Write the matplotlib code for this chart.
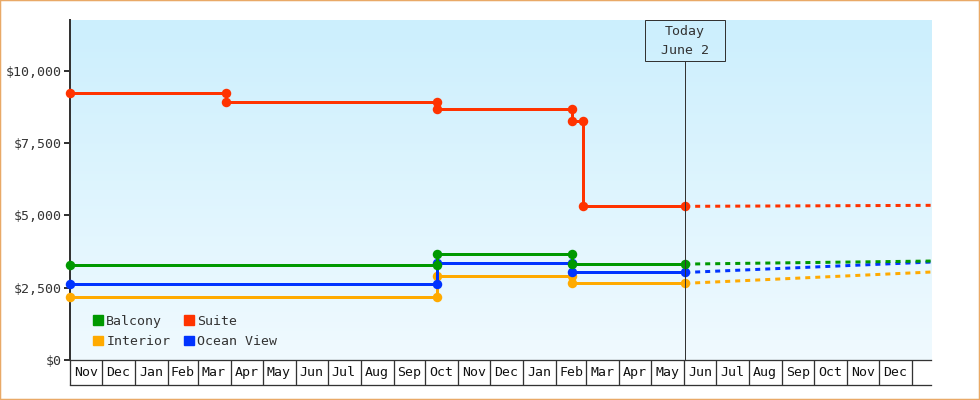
import matplotlib
matplotlib.use("Agg")
import matplotlib.pyplot as plt
import matplotlib.dates as mdates
import matplotlib.transforms as mtransforms
from matplotlib.patches import Patch, Rectangle
import numpy as np
import pandas as pd

plt.rcParams.update({"font.family": "DejaVu Sans Mono", "font.size": 9.5})

START = "2012-11-01"
TODAY = "2014-06-02"
END = "2015-01-19"

# price history: first price, then new price at each change date
BALCONY_DATES = ["2013-10-12", "2014-02-16"]
BALCONY_PRICES = [3285, 3665, 3315]
INTERIOR_DATES = ["2013-10-12", "2014-02-16"]
INTERIOR_PRICES = [2165, 2910, 2650]
OCEAN_DATES = ["2013-10-12", "2014-02-16"]
OCEAN_PRICES = [2625, 3345, 3025]
SUITE_DATES = ["2013-03-28", "2013-10-12", "2014-02-16", "2014-02-26"]
SUITE_PRICES = [9220, 8930, 8670, 8260, 5310]

# forecast from today to end of range
FC_DATES = [TODAY, END]
BALCONY_FC = [3315, 3420]
INTERIOR_FC = [2650, 3040]
OCEAN_FC = [3025, 3385]
SUITE_FC = [5310, 5345]

MONTH_LABELS = ["Nov", "Dec", "Jan", "Feb", "Mar", "Apr", "May", "Jun", "Jul",
                "Aug", "Sep", "Oct", "Nov", "Dec", "Jan", "Feb", "Mar", "Apr",
                "May", "Jun", "Jul", "Aug", "Sep", "Oct", "Nov", "Dec"]
YTICKS = [0, 2500, 5000, 7500, 10000]

SERIES = [  # drawing order: orange under blue under green
    ("Interior", "#ffaa00", INTERIOR_DATES, INTERIOR_PRICES, INTERIOR_FC),
    ("Ocean View", "#0033ff", OCEAN_DATES, OCEAN_PRICES, OCEAN_FC),
    ("Balcony", "#009900", BALCONY_DATES, BALCONY_PRICES, BALCONY_FC),
    ("Suite", "#ff3300", SUITE_DATES, SUITE_PRICES, SUITE_FC),
]

DARK = "#333333"
PX = 0.72  # points per pixel at dpi 100


def step_path(dates, prices):
    xs, ys = [START], [prices[0]]
    for d, old, new in zip(dates, prices[:-1], prices[1:]):
        xs += [d, d]
        ys += [old, new]
    xs.append(TODAY)
    ys.append(prices[-1])
    return np.array(xs, dtype="datetime64[D]"), ys


fig = plt.figure(figsize=(9.8, 4.0), dpi=100)
ax = fig.add_axes([70 / 980, 40 / 400, 861 / 980, 340 / 400])

x0 = np.datetime64(START)
x1 = np.datetime64(END)
ax.set_xlim(x0, x1)
ax.set_ylim(0, 11750)

# background gradient
grad = np.linspace(0, 1, 256).reshape(-1, 1)
top = np.array([204, 239, 253]) / 255
bot = np.array([240, 250, 255]) / 255
img = top[None, None, :] * (1 - grad[:, :, None]) + bot[None, None, :] * grad[:, :, None]
ax.imshow(img, extent=[0, 1, 0, 1], transform=ax.transAxes, aspect="auto", zorder=0)
ax.set_facecolor("none")

for name, col, dates, prices, fc in SERIES:
    xs, ys = step_path(dates, prices)
    ax.plot(xs, ys, color=col, lw=3 * PX, marker="o", ms=9.5 * PX, mew=0,
            solid_capstyle="butt", clip_on=False, zorder=3)
    ax.plot(np.array(FC_DATES, dtype="datetime64[D]"), fc, color=col, lw=3 * PX,
            dashes=(1.67, 1.67), zorder=2)

# today marker with box
ax.axvline(np.datetime64(TODAY), ymin=0, ymax=(360 - 61) / 340, color=DARK, lw=1 * PX, zorder=4)
trans = mtransforms.blended_transform_factory(ax.transData, ax.transAxes)
days_per_px = (x1 - x0).astype(int) / 861
tnum = mdates.date2num(np.datetime64(TODAY))
ax.add_patch(Rectangle((tnum - 40 * days_per_px, (360 - 61) / 340), 80 * days_per_px, 41 / 340,
                       transform=trans, fill=False, ec=DARK, lw=1 * PX, zorder=4, clip_on=False))
ax.text(tnum, (360 - 32) / 340, "Today", transform=trans, ha="center", va="center", color=DARK)
ax.text(tnum, (360 - 50) / 340, "June 2", transform=trans, ha="center", va="center", color=DARK)

# axes styling
for s in ["top", "right", "bottom"]:
    ax.spines[s].set_visible(False)
ax.spines["left"].set_color(DARK)
ax.spines["left"].set_linewidth(2 * PX)
ax.spines["left"].set_zorder(2.5)
ax.set_yticks(YTICKS)
ax.set_yticklabels([f"${v:,}" for v in YTICKS])
ax.tick_params(axis="y", length=6 * PX, width=2 * PX, color=DARK, pad=2 * PX, labelcolor=DARK)
ax.set_xticks([])

handles = [Patch(color=c, label=n) for n, c, *_ in
           [SERIES[2], SERIES[0], SERIES[3], SERIES[1]]]
ax.legend(handles=handles, ncol=2, loc="lower left", bbox_to_anchor=(23 / 861, 12 / 340),
          frameon=False, handlelength=0.76, handleheight=0.76, handletextpad=0.25,
          columnspacing=1.0, labelspacing=0.55, borderpad=0, borderaxespad=0,
          labelcolor=DARK)

# month band below plot
bx = fig.add_axes([70 / 980, 15 / 400, 861 / 980, 25 / 400])
bx.set_xlim(x0, x1)
bx.set_ylim(0, 1)
bx.axis("off")
starts = pd.date_range(START, periods=len(MONTH_LABELS) + 1, freq="MS").values.astype("datetime64[D]")
bx.axhline(1, color=DARK, lw=1.3 * PX, clip_on=False)
bx.axhline(0, color=DARK, lw=1.3 * PX, clip_on=False)
bx.vlines(starts, 0, 1, color=DARK, lw=1.3 * PX, clip_on=False)
for a, b, lab in zip(starts[:-1], starts[1:], MONTH_LABELS):
    bx.text(a + (b - a) / 2, 0.5, lab, ha="center", va="center", color="#111111")

# page border
fig.patches.append(Rectangle((0, 0), 1, 1, transform=fig.transFigure, fill=False,
                             ec="#e9a967", lw=2.5 * PX))

fig.savefig("out.png", dpi=100)
